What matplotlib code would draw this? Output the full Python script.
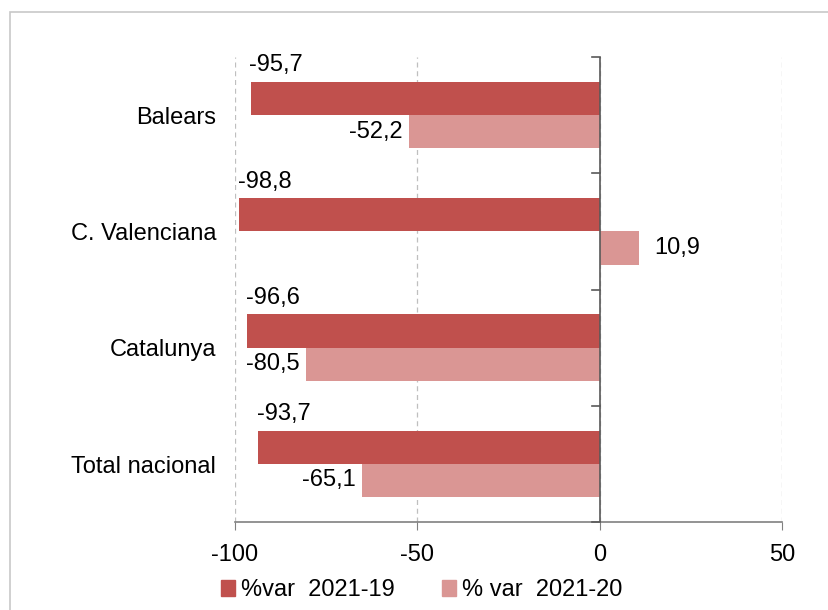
import matplotlib
matplotlib.use("Agg")
import matplotlib.pyplot as plt
from matplotlib.patches import Rectangle, Patch
import numpy as np

plt.rcParams['font.family'] = ['Liberation Sans', 'DejaVu Sans']

categories = ["Balears", "C. Valenciana", "Catalunya", "Total nacional"]
var_2021_19 = [-95.7, -98.8, -96.6, -93.7]
var_2021_20 = [-52.2, 10.9, -80.5, -65.1]
series_names = ["%var  2021-19", "% var  2021-20"]
xticks = [-100, -50, 0, 50]

dark = "#C0504D"
light = "#DA9694"

W, H = 829, 610
fig = plt.figure(figsize=(W/100, H/100), dpi=100)
fig.patches.append(Rectangle((10.5/W, -0.05), 1.1, (H - 11.7)/H + 0.05, transform=fig.transFigure,
                             fill=False, edgecolor="#C8C8C8", linewidth=1.2))
ax = fig.add_axes([235/W, (H - 522)/H, (782 - 235)/W, (522 - 57)/H])

y = np.arange(len(categories))
h = 0.286
ax.barh(y - h/2, var_2021_19, height=h, color=dark, zorder=3)
ax.barh(y + h/2, var_2021_20, height=h, color=light, zorder=3)

ax.set_xlim(-100, 50)
ax.set_ylim(len(categories) - 0.5, -0.5)
ax.set_xticks(xticks)
ax.set_xticklabels([str(t) for t in xticks], fontsize=17)
ax.tick_params(axis='x', length=6, color="#808080", pad=10)
ax.grid(axis='x', linestyle=(0, (4, 3)), color="#BFBFBF", linewidth=0.9, zorder=0)

for s in ["top", "right", "left"]:
    ax.spines[s].set_visible(False)
ax.spines["bottom"].set_color("#808080")
ax.spines["bottom"].set_linewidth(1.2)

# y axis at zero
ax.axvline(0, color="#595959", linewidth=1.2, zorder=4)
ax.set_yticks([])
for b in np.arange(-0.5, len(categories), 1.0):
    ax.plot([-2.2, 0], [b, b], color="#595959", linewidth=1.2, zorder=4, clip_on=False)

for i, c in enumerate(categories):
    ax.annotate(c, xy=(0, i), xycoords=('axes fraction', 'data'), xytext=(-13.5, -2),
                textcoords='offset points', ha='right', va='center', fontsize=17)

def fmt(v):
    return f"{v:.1f}".replace(".", ",")

for i, v in enumerate(var_2021_19):
    ax.annotate(fmt(v), xy=(v, i - h), xytext=(-1, 4), textcoords='offset points',
                ha='left', va='bottom', fontsize=17)
for i, v in enumerate(var_2021_20):
    if v < 0:
        ax.annotate(fmt(v), xy=(v, i + h/2), xytext=(-5, 0), textcoords='offset points',
                    ha='right', va='center', fontsize=17)
    else:
        ax.annotate(fmt(v), xy=(v, i + h/2), xytext=(11, 0), textcoords='offset points',
                    ha='left', va='center', fontsize=17)

handles = [Patch(color=dark), Patch(color=light)]
fig.legend(handles, series_names, loc='center', bbox_to_anchor=(422/W, 1 - 590/H),
           ncol=2, frameon=False, fontsize=17, handlelength=0.6, handleheight=0.65,
           handletextpad=0.25, columnspacing=2.0, borderpad=0)

fig.savefig("out.png", dpi=100)
